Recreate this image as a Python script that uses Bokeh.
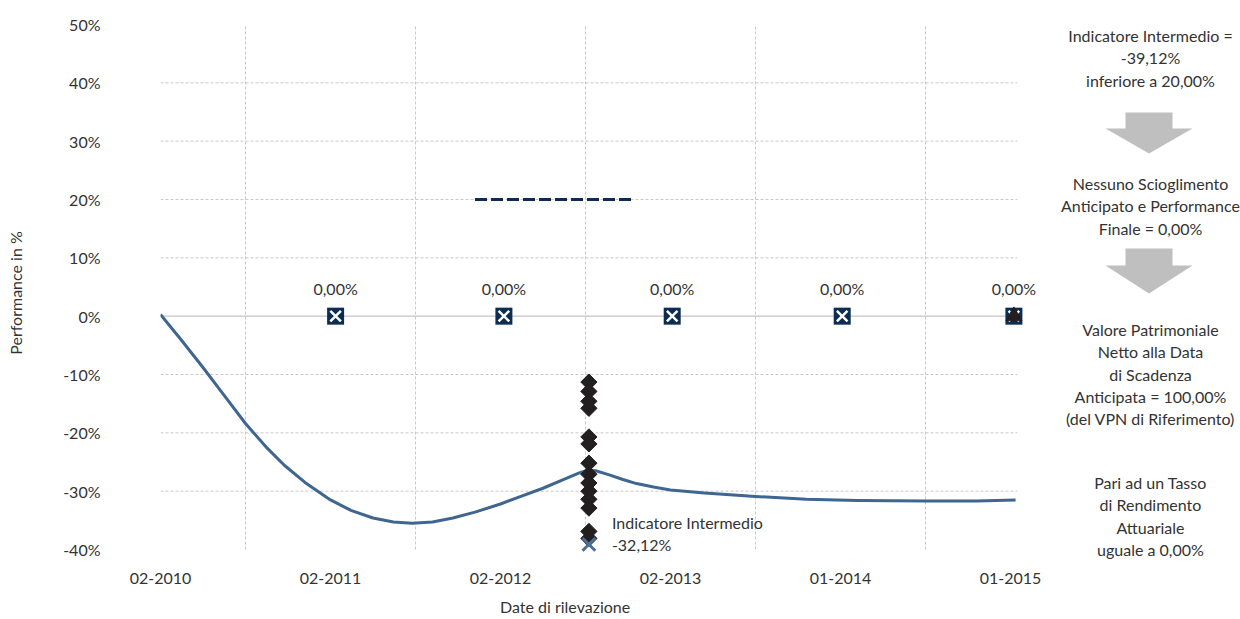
from bokeh.plotting import figure
from bokeh.models import (FixedTicker, PrintfTickFormatter, ColumnDataSource,
                          Range1d, LabelSet, LinearAxis)
from bokeh.core.properties import value
from bokeh.embed import file_html
from bokeh.resources import INLINE

FONT = "Lato"
FONT_SIZE = "16px"
TEXT_COLOR = "#333333"
GRID_COLOR = "#c8c8c8"

# --- data -------------------------------------------------------------
x_tick_values = [0, 1, 2, 3, 4, 5]
x_tick_labels = ["02-2010", "02-2011", "02-2012", "02-2013", "01-2014", "01-2015"]
y_tick_values = [-40, -30, -20, -10, 0, 10, 20, 30, 40, 50]

# performance of the underlying (in %)
perf_x = [0.00, 0.12, 0.25, 0.38, 0.50, 0.62, 0.73, 0.85, 1.00, 1.12, 1.25, 1.37,
          1.48, 1.60, 1.72, 1.85, 2.00, 2.12, 2.25, 2.38, 2.46, 2.51, 2.56, 2.64,
          2.72, 2.80, 2.90, 3.00, 3.20, 3.50, 3.80, 4.10, 4.50, 4.80, 5.03]
perf_y = [0.3, -4.0, -8.8, -13.8, -18.4, -22.4, -25.6, -28.5, -31.5, -33.3, -34.6, -35.3,
          -35.5, -35.3, -34.6, -33.6, -32.2, -30.9, -29.5, -27.9, -26.9, -26.4, -26.5, -27.2,
          -28.0, -28.7, -29.3, -29.8, -30.3, -30.9, -31.4, -31.6, -31.7, -31.7, -31.5]

# annual observation dates and their performance
obs_x = [1.03, 2.02, 3.01, 4.01, 5.02]
obs_y = [0.0, 0.0, 0.0, 0.0, 0.0]
obs_labels = ["0,00%", "0,00%", "0,00%", "0,00%", "0,00%"]

# final value at maturity
final_x = [5.02]
final_y = [0.0]

# barrier for early redemption
barrier_x = [1.85, 2.79]
barrier_level = 20.0

# basket components at the intermediate observation date
interm_date = 2.52
component_y = [-11.3, -12.9, -14.6, -15.8, -20.7, -21.9, -25.2, -27.1, -28.6,
               -30.0, -31.4, -32.9, -36.9, -38.1]
indicator_value = -39.12
indicator_text = ["Indicatore Intermedio", "-32,12%"]

# explanatory text on the right
side_blocks = [
    ["Indicatore Intermedio =", "-39,12%", "inferiore a 20,00%"],
    ["Nessuno Scioglimento", "Anticipato e Performance", "Finale = 0,00%"],
    ["Valore Patrimoniale", "Netto alla Data", "di Scadenza",
     "Anticipata = 100,00%", "(del VPN di Riferimento)"],
    ["Pari ad un Tasso", "di Rendimento", "Attuariale", "uguale a 0,00%"],
]

# --- figure geometry --------------------------------------------------
W, H = 1240, 619
LEFT, TOP, BOTTOM = 160, 24, 58
PX_PER_UNIT = 170.0            # horizontal: pixels per year
PX_PER_PCT = 525.0 / 90.0      # vertical: pixels per percentage point
x_end = (W - LEFT) / PX_PER_UNIT
y_start = 50 - (H - TOP - BOTTOM) / PX_PER_PCT
grid_end = 5.04

p = figure(width=W, height=H, output_backend="svg", toolbar_location=None,
           x_range=(0, x_end), y_range=(y_start, 50),
           min_border_left=LEFT, min_border_right=0,
           min_border_top=TOP, min_border_bottom=BOTTOM)
p.outline_line_color = None
p.background_fill_color = "white"
p.border_fill_color = "white"
p.grid.visible = False

# pixel-based ranges for the explanatory panel on the right
p.extra_x_ranges = {"px": Range1d(LEFT, W)}
p.extra_y_ranges = {"px": Range1d(H - BOTTOM, TOP)}


def style_axis(ax):
    ax.axis_line_color = None
    ax.major_tick_line_color = None
    ax.minor_tick_line_color = None
    ax.major_tick_out = 0
    ax.major_tick_in = 0
    ax.major_label_text_font = FONT
    ax.major_label_text_font_size = FONT_SIZE
    ax.major_label_text_color = TEXT_COLOR
    ax.axis_label_text_font = FONT
    ax.axis_label_text_font_size = FONT_SIZE
    ax.axis_label_text_font_style = "normal"
    ax.axis_label_text_color = TEXT_COLOR


style_axis(p.xaxis[0])
style_axis(p.yaxis[0])

p.xaxis.ticker = FixedTicker(ticks=x_tick_values)
p.xaxis.major_label_overrides = {v: s for v, s in zip(x_tick_values, x_tick_labels)}
p.xaxis.major_label_standoff = 11

# x-axis title, positioned under the date axis
title_pos = 2.38
x_title = LinearAxis(ticker=FixedTicker(ticks=[title_pos]),
                     major_label_overrides={title_pos: "Date di rilevazione"})
style_axis(x_title)
x_title.major_label_standoff = 10
p.add_layout(x_title, "below")

p.yaxis.ticker = FixedTicker(ticks=y_tick_values)
p.yaxis.formatter = PrintfTickFormatter(format="%d%%")
p.yaxis.major_label_standoff = 60
p.yaxis.axis_label = "Performance in %"
p.yaxis.axis_label_standoff = 35

# grid: dashed lines limited to the data area, solid zero line
h_levels = [v for v in y_tick_values if v not in (-40, 0, 50)]
p.segment(x0=[0] * len(h_levels), x1=[grid_end] * len(h_levels), y0=h_levels, y1=h_levels,
          line_color=GRID_COLOR, line_dash="3 2", line_width=1)
v_levels = [0.5, 1.5, 2.5, 3.5, 4.5]
p.segment(x0=v_levels, x1=v_levels, y0=[-40] * len(v_levels), y1=[50] * len(v_levels),
          line_color=GRID_COLOR, line_dash="3 2", line_width=1)
p.segment(x0=[0], x1=[grid_end - 0.02], y0=[0], y1=[0], line_color="#c4c4c4", line_width=1.3)

# barrier
p.line(barrier_x, [barrier_level, barrier_level], line_color="#0c2c52",
       line_width=3, line_dash="12 4")

# performance curve
p.line(perf_x, perf_y, line_color="#3f6690", line_width=3, line_join="round")

# basket components at intermediate date
p.scatter([interm_date] * len(component_y), component_y, marker="square",
          angle=0.785398, size=11.5, fill_color="#231f20", line_color="#231f20")

# intermediate indicator
p.scatter([interm_date], [indicator_value], marker="x", size=18,
          line_color="#4a6f99", line_width=3)
p.text([interm_date, interm_date], [indicator_value, indicator_value],
       text=indicator_text, x_offset=23, y_offset=[-22, 0],
       text_font=value(FONT), text_font_size=FONT_SIZE, text_color=TEXT_COLOR,
       text_align="left", text_baseline="middle")

# annual observation markers
obs_src = ColumnDataSource(dict(x=obs_x, y=obs_y, label=obs_labels))
p.scatter("x", "y", source=obs_src, marker="square", size=17,
          fill_color="#0c2c52", line_color=None)
p.scatter("x", "y", source=obs_src, marker="x", size=15,
          line_color="white", line_width=2.5)
p.text("x", "y", text="label", source=obs_src, y_offset=-28,
       text_font=value(FONT), text_font_size=FONT_SIZE, text_color=TEXT_COLOR,
       text_align="center", text_baseline="middle")

# final value
p.scatter(final_x, final_y, marker="triangle", size=16,
          fill_color="#231f20", line_color="#231f20")

# --- explanatory panel ------------------------------------------------
block_tops = [35, 183, 329, 482]
line_step = 22.3
cx = 1150
side_x, side_y, side_t = [], [], []
for top, lines in zip(block_tops, side_blocks):
    for i, line in enumerate(lines):
        side_x.append(cx)
        side_y.append(top + i * line_step)
        side_t.append(line)
side_src = ColumnDataSource(dict(x=side_x, y=side_y, t=side_t))
p.add_layout(LabelSet(x="x", y="y", text="t", source=side_src,
                      x_range_name="px", y_range_name="px",
                      text_font=value(FONT), text_font_size=value(FONT_SIZE),
                      text_color=TEXT_COLOR,
                      text_align="center", text_baseline="middle"))

# downward arrows between the text blocks
ax_c = 1148.5
arrow_tops = [112, 248]
arrow_necks = [128, 265]
arrow_tips = [153, 293]
xs, ys = [], []
for t, n, b in zip(arrow_tops, arrow_necks, arrow_tips):
    xs.append([ax_c - 23.5, ax_c + 23.5, ax_c + 23.5, ax_c + 43.5, ax_c,
               ax_c - 43.5, ax_c - 23.5])
    ys.append([t, t, n, n, b, n, n])
p.patches(xs, ys, fill_color="#bfbfbf", line_color=None,
          x_range_name="px", y_range_name="px")

open("out.html", "w").write(file_html(p, INLINE))
